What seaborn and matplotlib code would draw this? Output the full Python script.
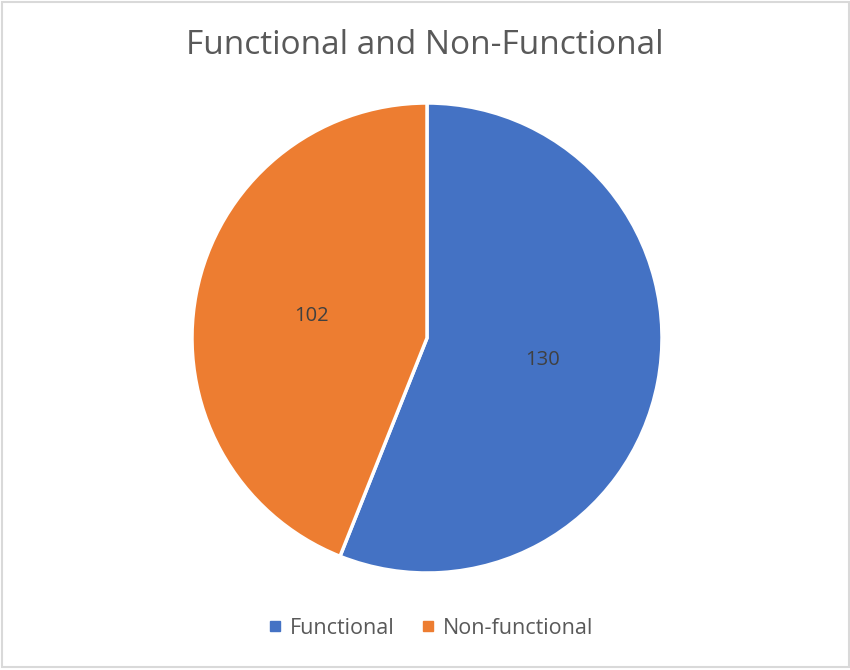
import matplotlib
matplotlib.use("Agg")
import matplotlib.pyplot as plt
import seaborn as sns
from matplotlib.lines import Line2D
from matplotlib.patches import Rectangle

categories = ["Functional", "Non-functional"]
values = [130, 102]
colors = ["#4472C4", "#ED7D31"]
title = "Functional and Non-Functional"

sns.set_theme(style="white")
plt.rcParams['font.family'] = ['Open Sans', 'DejaVu Sans']

fig = plt.figure(figsize=(8.5, 6.7), dpi=100)
fig.patch.set_facecolor("white")

ax = fig.add_axes([192/850, (670-338-235)/670, 470/850, 470/670])
total = sum(values)
wedges, texts, autotexts = ax.pie(
    values, colors=colors, startangle=90, counterclock=False,
    autopct=lambda p: f"{round(p*total/100):d}", pctdistance=0.5,
    wedgeprops=dict(edgecolor="white", linewidth=2.5),
    textprops=dict(color="#404040", fontsize=14.5),
)
ax.set_xlim(-1, 1)
ax.set_ylim(-1, 1)
ax.set_aspect("auto")
ax.axis("off")

fig.text(425/850, 1 - 45/670, title, ha="center", va="center",
         fontsize=24, color="#595959")

handles = [Line2D([0], [0], marker="s", linestyle="none", markersize=6.5,
                  markerfacecolor=c, markeredgecolor=c) for c in colors]
fig.legend(handles, categories, loc="center", bbox_to_anchor=(430/850, 1 - 628/670),
           ncol=2, frameon=False, fontsize=15.5, labelcolor="#595959",
           handlelength=0.8, handletextpad=0.3, columnspacing=1.15)

fig.add_artist(Rectangle((1.5/850, 3.5/670), 847/850, 665/670, transform=fig.transFigure,
                         fill=False, edgecolor="#D9D9D9", linewidth=1.5))

fig.savefig("out.png", dpi=100, facecolor="white")
